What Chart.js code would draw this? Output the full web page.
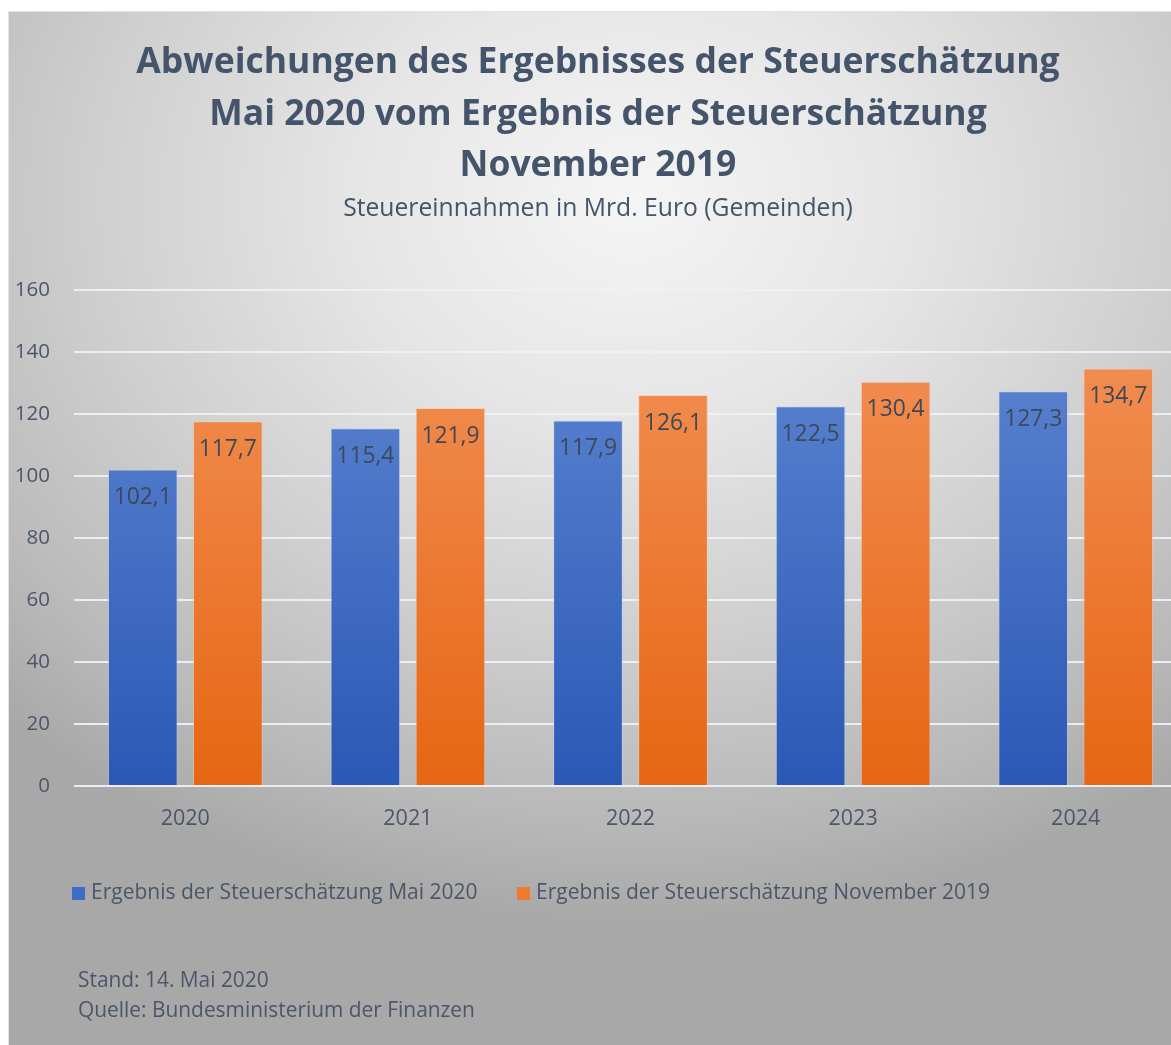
<!DOCTYPE html>
<html>
<head>
<meta charset="utf-8">
<script src="https://cdn.jsdelivr.net/npm/chart.js@4/dist/chart.umd.min.js"></script>
<style>
  html, body { margin: 0; padding: 0; width: 1171px; height: 1045px; overflow: hidden; background: #ffffff; }
  #panel {
    position: absolute; left: 8px; top: 11px; width: 1200px; height: 1040px;
    border: 1px solid #dfe4ea; box-sizing: border-box;
    background: radial-gradient(ellipse 75% 70% at 52% 18%, #f5f5f5 0%, #e6e6e6 30%, #cfcfcf 60%, #b9b9b9 85%, #a8a8a8 100%);
  }
  #c { position: absolute; left: 0; top: 0; }
</style>
</head>
<body>
<div id="panel"></div>
<canvas id="c" width="1200" height="1045"></canvas>
<script>
const titleLines = ["Abweichungen des Ergebnisses der Steuerschätzung", "Mai 2020 vom Ergebnis der Steuerschätzung", "November 2019"];
const subtitle = "Steuereinnahmen in Mrd. Euro (Gemeinden)";
const categories = ["2020", "2021", "2022", "2023", "2024"];
const seriesNames = ["Ergebnis der Steuerschätzung Mai 2020", "Ergebnis der Steuerschätzung November 2019"];
const mai2020 = [102.1, 115.4, 117.9, 122.5, 127.3];
const nov2019 = [117.7, 121.9, 126.1, 130.4, 134.7];
const yTicks = [0, 20, 40, 60, 80, 100, 120, 140, 160];
const footerLines = ["Stand: 14. Mai 2020", "Quelle: Bundesministerium der Finanzen"];

const FONT = "'Open Sans', Lato, sans-serif";
const TITLE_COLOR = "#44546a";
const TEXT_COLOR = "#4b5769";
const LABEL_COLOR = "#3d4859";

const palettes = [
  { top: "#6189d3", bottom: "#2a58b5", legend: "#3e6dc8" },
  { top: "#f3935a", bottom: "#e66613", legend: "#ef7a30" }
];

function barGradient(ctx, i) {
  const p = palettes[i];
  if (ctx.type !== 'data') return p.legend;
  const chart = ctx.chart;
  const ys = chart.scales.y;
  if (!ys || !chart.chartArea) return p.legend;
  const yTop = ys.getPixelForValue(160);
  const yBot = ys.getPixelForValue(0);
  const g = chart.ctx.createLinearGradient(0, yTop, 0, yBot);
  g.addColorStop(0, p.top);
  g.addColorStop(1, p.bottom);
  return g;
}

const decorPlugin = {
  id: 'decor',
  afterDatasetsDraw(chart) {
    const c = chart.ctx;
    c.save();
    c.font = "22.8px " + FONT;
    c.fillStyle = LABEL_COLOR;
    c.textAlign = 'center';
    c.textBaseline = 'middle';
    chart.data.datasets.forEach((ds, di) => {
      const meta = chart.getDatasetMeta(di);
      meta.data.forEach((el, j) => {
        const txt = ds.data[j].toFixed(1).replace('.', ',');
        c.fillText(txt, el.x, el.y + 28);
      });
    });
    c.restore();
  },
  afterDraw(chart) {
    const c = chart.ctx;
    c.save();
    c.fillStyle = TITLE_COLOR;
    c.textAlign = 'center';
    c.textBaseline = 'alphabetic';
    c.font = "bold 35.5px " + FONT;
    const baselines = [73, 125, 176];
    titleLines.forEach((t, i) => c.fillText(t, 598, baselines[i]));
    c.font = "24.7px " + FONT;
    c.fillText(subtitle, 598, 216);
    c.textAlign = 'left';
    c.font = "21px " + FONT;
    const legendX = [72, 517];
    chart.data.datasets.forEach((ds, i) => {
      c.fillStyle = palettes[i].legend;
      c.fillRect(legendX[i], 887, 13, 13);
      c.fillStyle = TEXT_COLOR;
      c.fillText(seriesNames[i], legendX[i] + 19, 899);
    });
    c.font = "20.9px " + FONT;
    c.fillText(footerLines[0], 78, 987);
    c.fillText(footerLines[1], 78, 1017);
    c.restore();
  }
};

new Chart(document.getElementById('c'), {
  type: 'bar',
  data: {
    labels: categories,
    datasets: [
      { label: seriesNames[0], data: mai2020, backgroundColor: ctx => barGradient(ctx, 0),
        borderColor: 'rgba(190,205,235,0.6)', borderWidth: 1 },
      { label: seriesNames[1], data: nov2019, backgroundColor: ctx => barGradient(ctx, 1),
        borderColor: 'rgba(245,200,170,0.6)', borderWidth: 1 }
    ]
  },
  options: {
    responsive: false,
    animation: false,
    devicePixelRatio: 1,
    layout: { padding: { left: 14, right: 13, top: 290, bottom: 199 } },
    datasets: { bar: { categoryPercentage: 0.764, barPercentage: 0.82 } },
    plugins: { legend: { display: false }, title: { display: false }, tooltip: { enabled: false } },
    scales: {
      x: {
        grid: { display: false, drawTicks: false },
        border: { display: false },
        ticks: { color: TEXT_COLOR, font: { family: FONT, size: 21.5 }, padding: 20 },
        afterFit(s) { s.height = 60; }
      },
      y: {
        min: 0, max: 160,
        afterBuildTicks(s) { s.ticks = yTicks.map(v => ({ value: v })); },
        grid: { color: 'rgba(238,240,245,0.95)', lineWidth: 2, drawTicks: false },
        border: { display: false },
        ticks: { color: TEXT_COLOR, font: { family: FONT, size: 20.5 }, padding: 24 },
        afterFit(s) { s.width = 60; }
      }
    }
  },
  plugins: [decorPlugin]
});
</script>
</body>
</html>
